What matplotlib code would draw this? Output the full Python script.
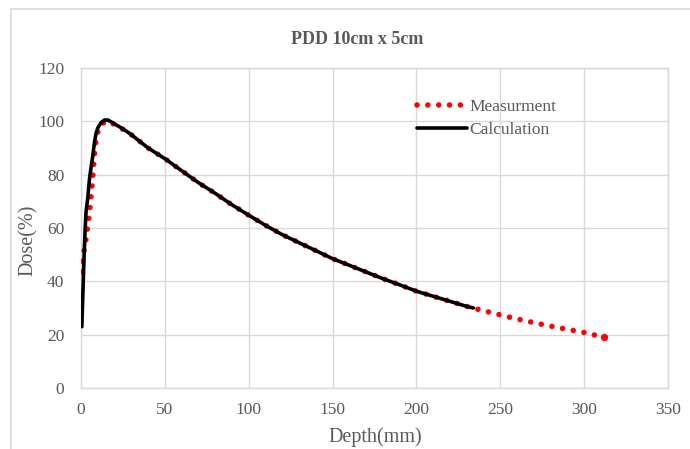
import matplotlib
matplotlib.use("Agg")
import matplotlib.pyplot as plt
from matplotlib.lines import Line2D

meas_depth = [0, 1, 2, 3, 4, 5, 6, 7, 8, 9, 10, 12, 14, 16, 18, 20, 25, 30, 40, 50,
              60, 70, 80, 90, 100, 110, 120, 130, 140, 150, 160, 170, 180, 190, 200,
              210, 220, 230, 240, 250, 260, 270, 280, 290, 300, 312]
meas_dose = [43.5, 48, 52, 56, 60.5, 65.5, 72, 79, 87, 93, 96, 98.5, 99.8, 100, 99.5,
             98.8, 97, 95, 90, 86, 81.5, 77, 73, 68.7, 64.8, 61, 57.5, 54.5, 51.5, 48.5,
             46, 43.5, 41, 38.7, 36.3, 34.4, 32.5, 30.6, 29, 27.4, 25.9, 24.5, 23.2,
             22, 20.8, 19.0]

calc_depth = [0.5, 1, 1.5, 2, 2.5, 3, 4, 5, 5.5, 7, 8, 9, 10, 12, 14, 16, 18, 20, 25,
              30, 40, 50, 60, 70, 80, 90, 100, 110, 120, 130, 140, 150, 160, 170, 180,
              190, 200, 210, 220, 230, 234]
calc_dose = [23, 33, 43, 52, 60, 66, 71, 78, 80.5, 87, 92, 95.5, 97.5, 99.5, 100.5,
             100.5, 99.8, 99, 97.2, 95, 90, 86, 81.5, 77, 73, 68.7, 64.8, 61, 57.5,
             54.5, 51.5, 48.5, 46, 43.5, 41, 38.7, 36.3, 34.4, 32.5, 30.6, 30]

title = "PDD 10cm x 5cm"
xlabel = "Depth(mm)"
ylabel = "Dose(%)"
labels = ["Measurment", "Calculation"]

plt.rcParams['font.family'] = ['Liberation Serif', 'DejaVu Serif']
plt.rcParams['lines.scale_dashes'] = False

W, H = 690, 449
fig = plt.figure(figsize=(W / 100, H / 100), dpi=100)
ax = fig.add_axes([81 / W, 1 - 388 / H, (668 - 81) / W, (388 - 68) / H])

grid_c = '#d9d9d9'
text_c = '#595959'

ax.plot(meas_depth, meas_dose, color='#ff0000', lw=4.0, dashes=(0.01, 7.8),
        dash_capstyle='round', label=labels[0], zorder=3)
# final measured point (dot pattern may not land exactly on the end)
ax.plot(meas_depth[-1:], meas_dose[-1:], linestyle='none', marker='o',
        markersize=5.2, markeredgewidth=0, color='#ff0000', zorder=3)
ax.plot(calc_depth, calc_dose, color='black', lw=2.6, solid_capstyle='round',
        label=labels[1], zorder=4)

ax.set_xlim(0, 350)
ax.set_ylim(0, 120)
ax.set_xticks(range(0, 351, 50))
ax.set_yticks(range(0, 121, 20))
ax.grid(True, color=grid_c, lw=1.0)
ax.set_axisbelow(True)
for s in ax.spines.values():
    s.set_color(grid_c)
    s.set_linewidth(1.0)
ax.tick_params(length=0, labelsize=12.5, colors=text_c)
ax.tick_params(axis='x', pad=10)
ax.tick_params(axis='y', pad=12)

ax.set_xlabel(xlabel, fontsize=14.5, color=text_c)
ax.set_ylabel(ylabel, fontsize=14.5, color=text_c)
ax.xaxis.set_label_coords((375 - 81) / 587, (388 - 437) / 320)
ax.yaxis.set_label_coords((28 - 81) / 587, (388 - 240) / 320)
ax.xaxis.label.set_va('center')
ax.yaxis.label.set_va('center')
fig.text(357 / W, 1 - 39 / H, title, ha='center', va='center', fontsize=13,
         fontweight='bold', color=text_c)

leg = ax.legend(loc='upper left', bbox_to_anchor=(0.56, 0.925), frameon=False,
                fontsize=12.5, handlelength=2.9, handletextpad=0.15, labelspacing=0.4,
                borderaxespad=0)
for t in leg.get_texts():
    t.set_color(text_c)

# outer chart border (top and left visible)
fig.add_artist(Line2D([11 / W, 11 / W], [1 - 9 / H, 0], transform=fig.transFigure,
                      color=grid_c, lw=1.2))
fig.add_artist(Line2D([11 / W, 1], [1 - 9 / H, 1 - 9 / H], transform=fig.transFigure,
                      color=grid_c, lw=1.2))

fig.savefig('out.png', dpi=100)
